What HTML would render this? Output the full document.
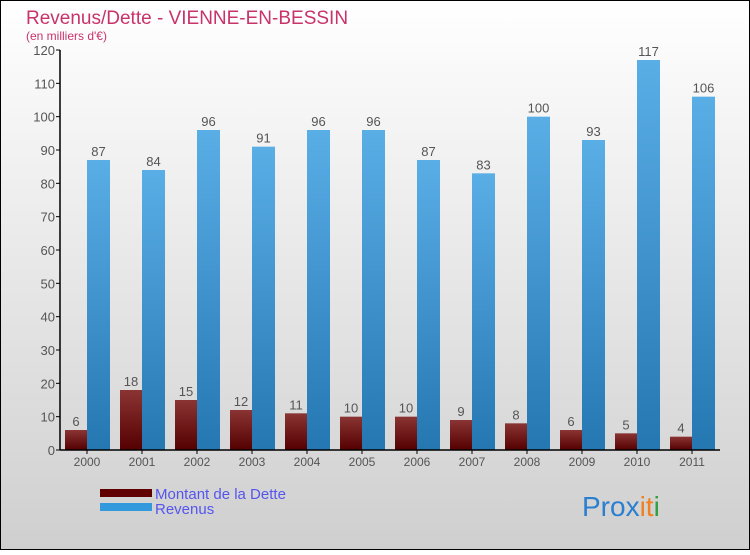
<!DOCTYPE html>
<html><head><meta charset="utf-8"><style>
body{margin:0;}
svg text{font-family:"Liberation Sans",sans-serif;}
</style></head><body>
<svg width="750" height="550" viewBox="0 0 750 550">
<defs>
<linearGradient id="bg" x1="0" y1="0" x2="0" y2="1"><stop offset="0" stop-color="#ffffff"/><stop offset="1" stop-color="#cfcfcf"/></linearGradient>
<linearGradient id="gb" x1="0" y1="0" x2="0" y2="1"><stop offset="0" stop-color="#5aaee6"/><stop offset="1" stop-color="#2577b2"/></linearGradient>
<linearGradient id="gr" x1="0" y1="0" x2="0" y2="1"><stop offset="0" stop-color="#8a3434"/><stop offset="1" stop-color="#550000"/></linearGradient>
</defs>
<rect x="0.5" y="0.5" width="749" height="549" fill="url(#bg)" stroke="#000"/>
<text x="26" y="24" font-size="19" fill="#c8336a">Revenus/Dette - VIENNE-EN-BESSIN</text>
<text x="26" y="40" font-size="12" fill="#c8336a">(en milliers d'€)</text>
<g id="plot"></g>
<g>
<rect x="100" y="489" width="52" height="8" fill="#600000"/>
<rect x="100" y="503" width="52" height="8" fill="#3399dd"/>
<text x="155" y="499" font-size="15" fill="#5555ee">Montant de la Dette</text>
<text x="155" y="514" font-size="15" fill="#5555ee">Revenus</text>
</g>
<text x="582" y="516" font-size="28"><tspan fill="#2a7fd0">Pro</tspan><tspan fill="#2a7fd0">x</tspan><tspan fill="#f08020">it</tspan><tspan fill="#30a040">i</tspan></text>
</svg>
<script>
const years=["2000","2001","2002","2003","2004","2005","2006","2007","2008","2009","2010","2011"];
const dette=[6,18,15,12,11,10,10,9,8,6,5,4];
const revenus=[87,84,96,91,96,96,87,83,100,93,117,106];
const yTicks=[0,10,20,30,40,50,60,70,80,90,100,110,120];
const NS="http://www.w3.org/2000/svg";
const g=document.getElementById('plot');
const y0=450,yTop=50,yMax=120,x0=60,gw=55;
const ys=v=>y0-(v/yMax)*(y0-yTop);
function mk(t,a,txt){const e=document.createElementNS(NS,t);for(const k in a)e.setAttribute(k,a[k]);if(txt!==undefined)e.textContent=txt;g.appendChild(e);return e;}
yTicks.forEach(t=>{
 const l=mk('line',{x1:x0-4,x2:x0,y1:ys(t),y2:ys(t),stroke:'#000'});
 
 
 const tx=mk('text',{x:x0-5,y:ys(t)+5,'font-size':13,fill:'#555','text-anchor':'end'},t);
 
 
});
years.forEach((yr,i)=>{
 const c=x0+gw*i+27;
 const b1=mk('rect',{x:c-22,y:ys(dette[i]),width:22,height:y0-ys(dette[i]),fill:'url(#gr)'});
 
 
 const b2=mk('rect',{x:c,y:ys(revenus[i]),width:23,height:y0-ys(revenus[i]),fill:'url(#gb)'});
 
 
 const t1=mk('text',{x:c-11,y:ys(dette[i])-4,'font-size':13,fill:'#555','text-anchor':'middle'},dette[i]);
 
 
 const t2=mk('text',{x:c+11.5,y:ys(revenus[i])-4,'font-size':13,fill:'#555','text-anchor':'middle'},revenus[i]);
 
 
 const tk=mk('line',{x1:c,x2:c,y1:y0,y2:y0+4,stroke:'#000'});
 
 
 const xl=mk('text',{x:c,y:y0+16,'font-size':12,fill:'#555','text-anchor':'middle'},yr);
 
 
});
const ya=mk('line',{x1:x0,x2:x0,y1:yTop,y2:y0,stroke:'#000','stroke-width':1.5});


const xa=mk('line',{x1:x0,x2:720,y1:y0,y2:y0,stroke:'#000','stroke-width':1.5});


</script>
</body></html>
